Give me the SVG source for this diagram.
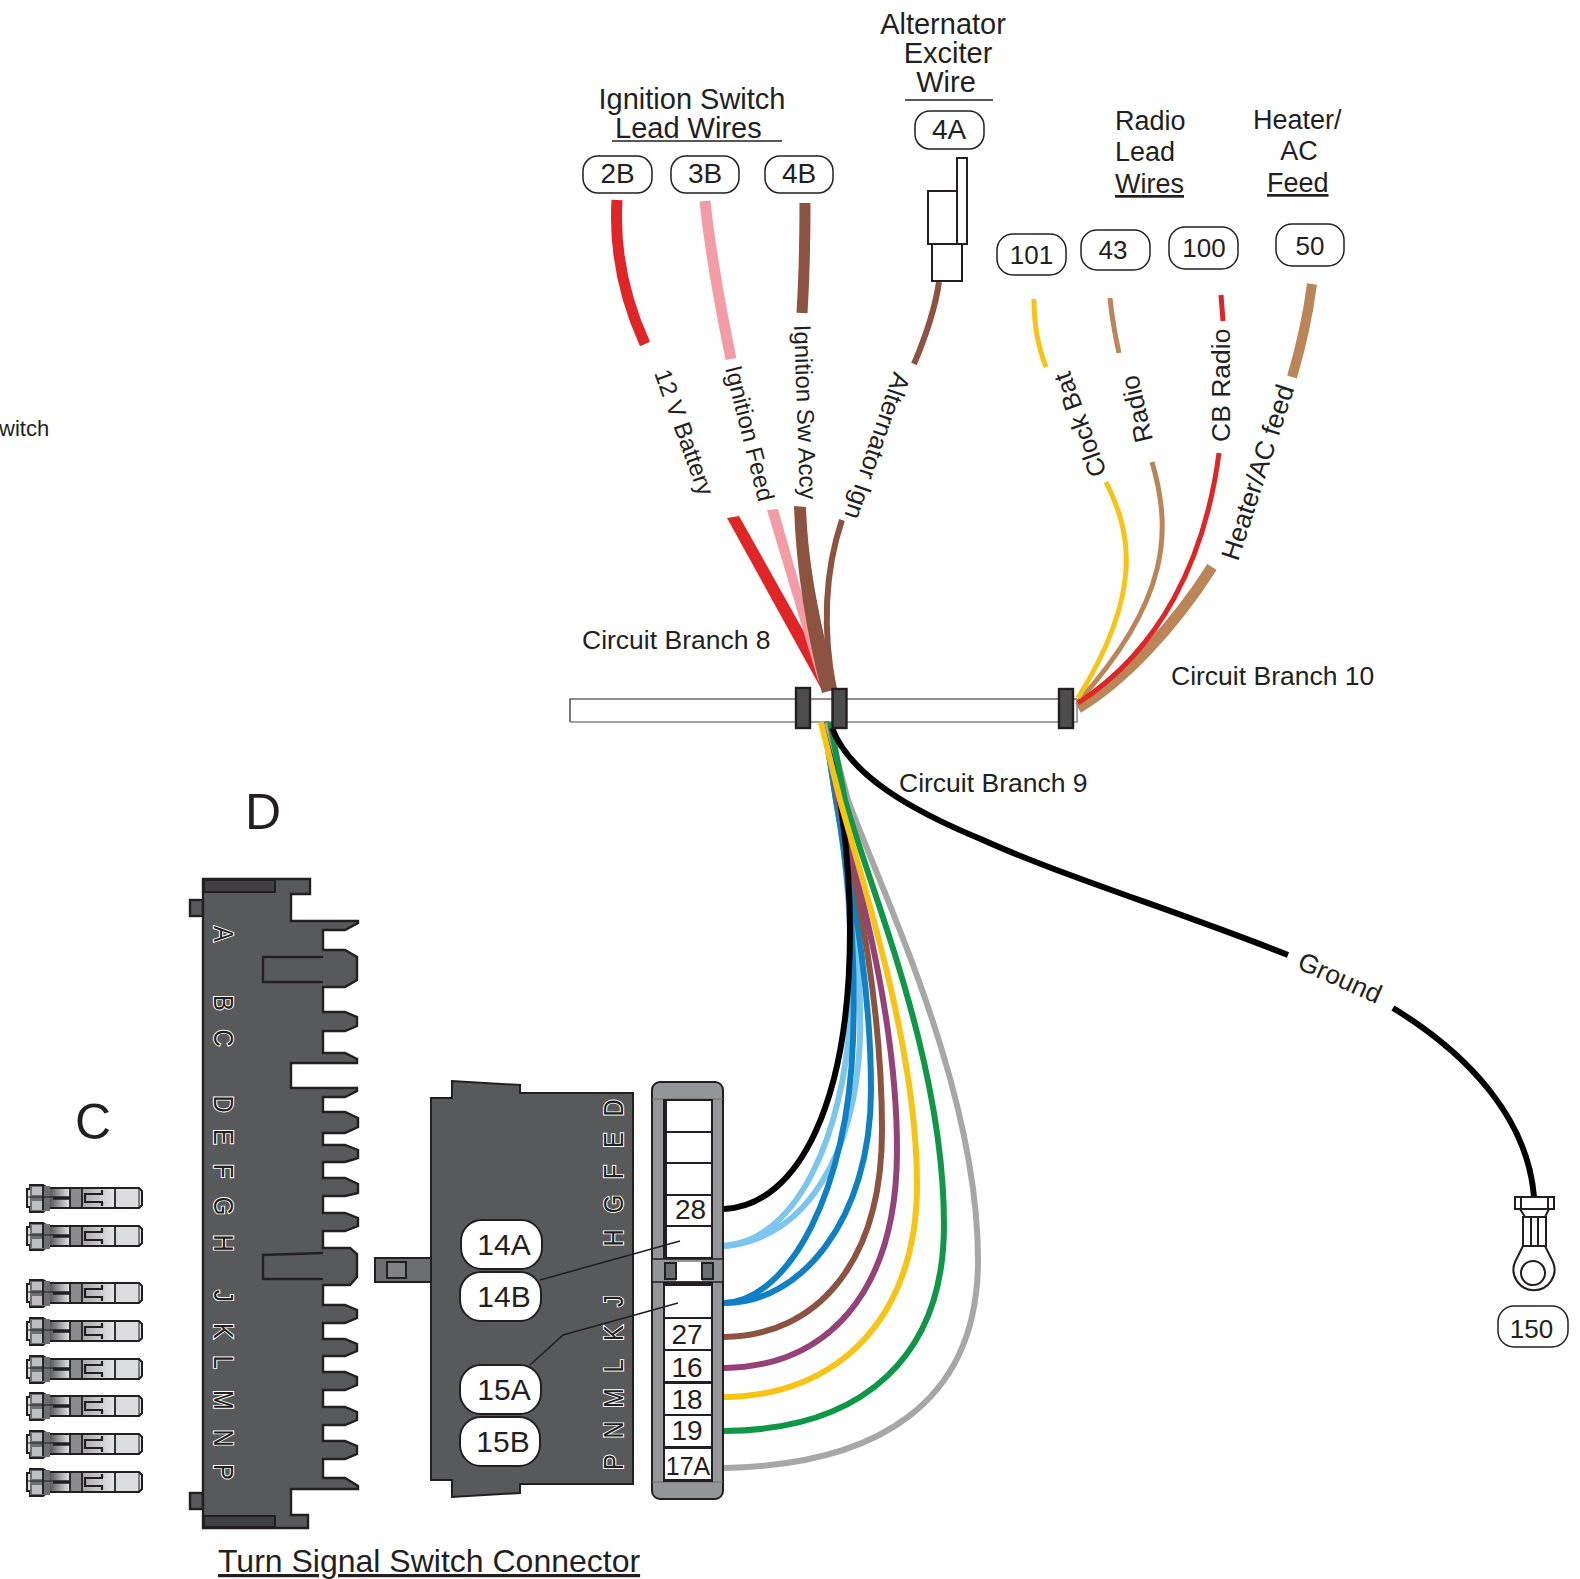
<svg xmlns="http://www.w3.org/2000/svg" width="1580" height="1579" viewBox="0 0 1580 1579">
<style>
text{font-family:"Liberation Sans",Arial,sans-serif;fill:#231f20}
.l26{font-size:26.500px}.l24{font-size:24px}.l29{font-size:29px}.l27{font-size:27px}
.c{text-anchor:middle}
.pill{fill:#fff;stroke:#231f20;stroke-width:1.5}
.pillb{fill:#fff;stroke:#231f20;stroke-width:2}
.w{fill:none;stroke-linecap:butt}
.low{stroke-width:6}
.dk{fill:#58595b;stroke:#231f20;stroke-width:2.4;stroke-linejoin:miter}
.clamp{fill:#4d4d4d;stroke:#231f20;stroke-width:2.4}
.pin{font-size:28px;fill:#231f20;stroke:#fff;stroke-width:2;paint-order:stroke;text-anchor:middle}
.cell{fill:#fff}
.t{stroke:#231f20;stroke-width:2;fill:none}
.lug{fill:#fff;stroke:#231f20;stroke-width:2}
</style>
<defs>
<linearGradient id="g1" x1="0" x2="1" y1="0" y2="0"><stop offset="0" stop-color="#58595b"/><stop offset="1" stop-color="#e6e7e8"/></linearGradient>
<linearGradient id="g2" x1="0" x2="1" y1="0" y2="0"><stop offset="0" stop-color="#a7a9ac"/><stop offset="1" stop-color="#e6e7e8"/></linearGradient>
<g id="term">
<path d="M0-9H3V-13H16L21-10H112L115-7V7L112 10H21L16 14H3V9H0Z" fill="#dcddde" stroke="#231f20" stroke-width="2"/>
<rect x="3" y="-12" width="20" height="25" fill="#6d6e71"/>
<rect x="5" y="-11" width="10" height="8" fill="#bcbec0"/>
<rect x="5" y="3" width="10" height="9" fill="#bcbec0"/>
<rect x="23" y="-9" width="20" height="18" fill="url(#g1)"/>
<rect x="43" y="-9" width="12" height="18" fill="#8a8c8e"/>
<rect x="55" y="-9" width="33" height="18" fill="url(#g2)"/>
<path d="M0-1H26" stroke="#231f20" stroke-width="1" fill="none"/>
<path d="M26 0H43" stroke="#231f20" stroke-width="3.500" fill="none"/>
<path d="M16-12V12M43-10V10M55-10V10M88-10V10" stroke="#231f20" stroke-width="1.800" fill="none"/>
<path d="M75-8V-4H58V4H75V8" stroke="#231f20" stroke-width="2.200" fill="none"/>
<path d="M112-10V10" stroke="#231f20" stroke-width="1" fill="none"/>
</g>
</defs>
<rect width="1580" height="1579" fill="#fff"/>

<g id="title-labels">
<text class="l29 c" x="692" y="109">Ignition Switch</text>
<text class="l29" x="615" y="138">Lead Wires</text>
<line x1="612" y1="141" x2="782" y2="141" stroke="#231f20" stroke-width="1.6"/>
<text class="l29 c" x="943" y="34">Alternator</text>
<text class="l29 c" x="948" y="63">Exciter</text>
<text class="l29 c" x="946" y="92">Wire</text>
<line x1="905" y1="100" x2="993" y2="100" stroke="#231f20" stroke-width="1.6"/>
<text class="l27" x="1115" y="130">Radio</text>
<text class="l27" x="1115" y="161">Lead</text>
<text class="l27" x="1115" y="193" text-decoration="underline">Wires</text>
<text class="l27" x="1253" y="129">Heater/</text>
<text class="l27 c" x="1299" y="160">AC</text>
<text class="l27" x="1267" y="192" text-decoration="underline">Feed</text>
<text class="l26" x="582" y="649">Circuit Branch 8</text>
<text class="l26" x="1171" y="685">Circuit Branch 10</text>
<text class="l26" x="899" y="792">Circuit Branch 9</text>
<text x="245" y="829" style="font-size:50px">D</text>
<text x="75" y="1139" style="font-size:50px">C</text>
<text x="218" y="1572" style="font-size:32px" text-decoration="underline">Turn Signal Switch Connector</text>
<text x="-1" y="436" style="font-size:22px">witch</text>
<text class="l24" transform="translate(654 373) rotate(70)">12 V Battery</text>
<text class="l24" transform="translate(725 368) rotate(76)">Ignition Feed</text>
<text class="l24" transform="translate(794 325) rotate(88)">Ignition Sw Accy</text>
<text style="font-size:25.500px" transform="translate(894 371) rotate(109)">Alternator Ign</text>
<text style="font-size:25.500px" transform="translate(1107 473) rotate(-110)">Clock Bat</text>
<text style="font-size:26px" transform="translate(1153 440) rotate(-103)">Radio</text>
<text class="l26" transform="translate(1230 442) rotate(-90)">CB Radio</text>
<text class="l26" transform="translate(1238 562) rotate(-72)">Heater/AC feed</text>
<text class="l26" transform="translate(1296 968) rotate(24)">Ground</text>
</g>

<g id="bar">
<rect x="570" y="699" width="507" height="23" fill="#fff"/>
<path d="M570 722V699H1077" fill="none" stroke="#231f20" stroke-width="1.2"/>
<path d="M570 722H1077V699" fill="none" stroke="#808285" stroke-width="1.5"/>
</g>

<g id="connectors">
<g class="wires-top">
<path class="w" d="M617 200C614 250 625 300 645 344" stroke="#e02526" stroke-width="11"/>
<path class="w" d="M705 201C710 250 720 305 731 359" stroke="#f49ca5" stroke-width="11"/>
<path class="w" d="M805 203C805 240 804 280 802 313" stroke="#8c5340" stroke-width="11"/>
<path class="w" d="M939 282C935 310 925 338 914 364" stroke="#8c5340" stroke-width="6"/>
<path class="w" d="M1034 299C1034 322 1038 347 1046 367" stroke="#f7c414" stroke-width="5"/>
<path class="w" d="M1110 298C1112 318 1115 335 1119 353" stroke="#bb8558" stroke-width="5"/>
<path class="w" d="M1221 295L1223 321" stroke="#e02526" stroke-width="5"/>
<path class="w" d="M1312 284C1308 315 1300 350 1292 377" stroke="#bb8558" stroke-width="10"/>
</g>
<g class="wires-mid">
<path d="M727 518L739 516L822 664L825 692L823 692Z" fill="#e02526"/>
<path d="M767 510L778 509L815 640L825 690L818 680Z" fill="#f49ca5"/>
<path class="w" d="M842 520C825 570 822 630 834 690" stroke="#8c5340" stroke-width="6"/>
<path d="M794 506L806 507C808 570 822 630 837 689L822 693C806 630 796 570 794 506Z" fill="#8c5340"/>
<path class="w" d="M1212 567C1175 625 1125 680 1078 708" stroke="#bb8558" stroke-width="11"/>
<path class="w" d="M1152 462C1172 530 1170 600 1078 702" stroke="#bb8558" stroke-width="5"/>
<path class="w" d="M1219 453C1205 560 1160 650 1078 703" stroke="#e02526" stroke-width="5"/>
<path class="w" d="M1106 482C1130 530 1145 590 1078 698" stroke="#f7c414" stroke-width="5"/>
</g>
<g class="wires-low">
<path class="w low" d="M826 722L838 800C850 880 862 960 860 1040C855 1150 810 1238 724 1246" stroke="#7cc5ec"/>
<path class="w low" d="M826 722L838 800C848 880 855 960 850 1020C843 1130 800 1240 724 1246" stroke="#7cc5ec"/>
<path class="w low" d="M824 722L836 800C850 880 871 980 871 1090C871 1220 800 1304 724 1303" stroke="#1080c4"/>
<path class="w low" d="M824 722L836 800C850 880 856 960 853 1040C848 1190 790 1300 724 1303" stroke="#1080c4"/>
<path class="w low" d="M826 722L838 800C855 880 882 1000 882 1130C882 1265 815 1336 724 1337" stroke="#8c5340"/>
<path class="w low" d="M826 722L838 800C860 890 897 1020 897 1150C897 1295 825 1367 724 1368" stroke="#954279"/>
<path class="w low" d="M826 722C838 780 850 850 850 930C850 1100 800 1205 724 1209" stroke="#000"/>
<path class="w low" d="M827 722L848 800C885 900 978 1090 978 1260C978 1405 875 1465 724 1468" stroke="#a7a7a7"/>
<path class="w low" d="M830 722L845 800C870 890 944 1060 944 1225C944 1355 865 1430 724 1431" stroke="#0f9748"/>
<path class="w low" d="M821 722L840 800C865 890 917 1050 917 1185C917 1318 838 1396 724 1397" stroke="#f7c414"/>
<path class="w low" d="M832 728C850 775 910 810 983 840C1060 875 1180 912 1288 955" stroke="#000"/>
<path class="w low" d="M1393 1008C1470 1055 1528 1120 1534 1197" stroke="#000"/>
</g>
</g>

<g id="clamps">
<rect class="clamp" x="796" y="688" width="14" height="40"/>
<rect class="clamp" x="832.500" y="689" width="14" height="39"/>
<rect class="clamp" x="1059" y="689" width="14" height="39"/>
</g>

<g id="spade">
<rect class="lug" x="957" y="158" width="10" height="86"/>
<rect class="lug" x="928" y="191" width="29" height="53"/>
<rect class="lug" x="932" y="244" width="30" height="37"/>
</g>

<g id="pills">
<g id="n2B"><rect class="pill" x="583" y="156" width="69" height="37" rx="15"/><text class="c" style="font-size:28px" x="617.500" y="183">2B</text></g>
<g id="n3B"><rect class="pill" x="671" y="156" width="68" height="37" rx="15"/><text class="c" style="font-size:28px" x="705" y="183">3B</text></g>
<g id="n4B"><rect class="pill" x="765" y="156" width="68" height="37" rx="15"/><text class="c" style="font-size:28px" x="799" y="183">4B</text></g>
<g id="n4A"><rect class="pill" x="915" y="111" width="69" height="38" rx="15"/><text class="c" style="font-size:28px" x="949" y="139">4A</text></g>
<g id="n101"><rect class="pill" x="997" y="234" width="69" height="41" rx="16"/><text class="c" style="font-size:26px" x="1031.500" y="264">101</text></g>
<g id="n43"><rect class="pill" x="1081" y="230" width="69" height="40" rx="16"/><text class="c" style="font-size:26px" x="1113" y="259">43</text></g>
<g id="n100"><rect class="pill" x="1169" y="227" width="69" height="42" rx="16"/><text class="c" style="font-size:26px" x="1204" y="257">100</text></g>
<g id="n50"><rect class="pill" x="1276" y="224" width="68" height="42" rx="16"/><text class="c" style="font-size:26px" x="1310" y="255">50</text></g>
<g id="n150"><rect class="pill" x="1498" y="1306" width="70" height="41" rx="16"/><text class="c" style="font-size:26px" x="1531.500" y="1338">150</text></g>
</g>

<g id="lug">
<path class="lug" d="M1520 1209L1525 1217H1545L1549 1209Z"/>
<rect class="lug" x="1515" y="1197" width="39" height="12"/>
<path class="t" d="M1521 1197V1209M1548 1197V1209"/>
<path class="lug" d="M1523 1246L1515 1262A20.500 20.500 0 1 0 1553 1262L1545 1246Z"/>
<rect class="lug" x="1523" y="1217" width="8" height="29"/>
<rect class="lug" x="1538" y="1217" width="8" height="29"/>
<circle class="lug" cx="1533" cy="1273" r="12"/>
</g>

<g id="conn-D">
<rect class="dk" x="190" y="900" width="13" height="16"/>
<rect class="dk" x="190" y="1493" width="13" height="16"/>
<path class="dk" d="M203 879H310V894H291V921H358V923L345 930H323V950H345L357 957V980L345 987H323V1012H345L357 1017V1026L345 1031H323V1053H345L357 1059V1063H291V1088H357V1091L345 1097H323V1112H345L358 1118V1127L345 1133H323V1145H345L358 1150V1158L345 1162H323V1178H345L358 1184V1193L345 1196H323V1213H345L358 1218V1226L345 1231H323V1248H350L357 1254V1277L350 1285H323V1305H345L357 1310V1318L345 1323H323V1339H345L357 1344V1351L345 1356H323V1372H345L357 1377V1385L345 1390H323V1407H345L357 1412V1420L345 1425H323V1441H345L357 1446V1454L345 1459H323V1478H345L358 1486V1489H291V1515H308V1528H203Z"/>
<rect x="204" y="880" width="71" height="12" fill="#414042" stroke="#231f20" stroke-width="2"/>
<rect x="204" y="1516" width="71" height="11" fill="#414042" stroke="#231f20" stroke-width="2"/>
<path d="M323 957H263V982H323M323 1253L263 1255V1279H323" fill="#58595b" stroke="#231f20" stroke-width="2.4"/>
<path d="M322 958V981M322 1254V1278" stroke="#58595b" stroke-width="3" fill="none"/>
<g transform="translate(214 0)">
<text class="pin" transform="translate(0 934) rotate(90) scale(.85 1)">A</text>
<text class="pin" transform="translate(0 1003) rotate(90) scale(.85 1)">B</text>
<text class="pin" transform="translate(0 1038) rotate(90) scale(.85 1)">C</text>
<text class="pin" transform="translate(0 1104) rotate(90) scale(.85 1)">D</text>
<text class="pin" transform="translate(0 1137) rotate(90) scale(.85 1)">E</text>
<text class="pin" transform="translate(0 1171) rotate(90) scale(.85 1)">F</text>
<text class="pin" transform="translate(0 1206) rotate(90) scale(.85 1)">G</text>
<text class="pin" transform="translate(0 1243) rotate(90) scale(.85 1)">H</text>
<text class="pin" transform="translate(0 1296) rotate(90) scale(.85 1)">J</text>
<text class="pin" transform="translate(0 1331) rotate(90) scale(.85 1)">K</text>
<text class="pin" transform="translate(0 1362) rotate(90) scale(.85 1)">L</text>
<text class="pin" transform="translate(0 1400) rotate(90) scale(.85 1)">M</text>
<text class="pin" transform="translate(0 1438) rotate(90) scale(.85 1)">N</text>
<text class="pin" transform="translate(0 1472) rotate(90) scale(.85 1)">P</text>
</g>
</g>

<g id="conn-terminals">
<use href="#term" x="27" y="1198"/>
<use href="#term" x="27" y="1236"/>
<use href="#term" x="27" y="1293"/>
<use href="#term" x="27" y="1331"/>
<use href="#term" x="27" y="1369"/>
<use href="#term" x="27" y="1406"/>
<use href="#term" x="27" y="1444"/>
<use href="#term" x="27" y="1482"/>
</g>

<g id="conn-plug">
<rect x="375" y="1258" width="56" height="24" fill="#6d6e71" stroke="#231f20" stroke-width="2"/>
<rect x="387" y="1262" width="19" height="16" fill="#808285" stroke="#231f20" stroke-width="2"/>
<path fill="#58595b" stroke="#231f20" stroke-width="2" d="M431 1098H452V1081L520 1085V1093H633V1484H520V1493L452 1497V1480L431 1480Z"/>
<g>
<text class="pin" transform="translate(623 1108) rotate(-90) scale(.85 1)">D</text>
<text class="pin" transform="translate(623 1140) rotate(-90) scale(.85 1)">E</text>
<text class="pin" transform="translate(623 1172) rotate(-90) scale(.85 1)">F</text>
<text class="pin" transform="translate(623 1204) rotate(-90) scale(.85 1)">G</text>
<text class="pin" transform="translate(623 1238) rotate(-90) scale(.85 1)">H</text>
<text class="pin" transform="translate(623 1301) rotate(-90) scale(.85 1)">J</text>
<text class="pin" transform="translate(623 1333) rotate(-90) scale(.85 1)">K</text>
<text class="pin" transform="translate(623 1366) rotate(-90) scale(.85 1)">L</text>
<text class="pin" transform="translate(623 1398) rotate(-90) scale(.85 1)">M</text>
<text class="pin" transform="translate(623 1430) rotate(-90) scale(.85 1)">N</text>
<text class="pin" transform="translate(623 1462) rotate(-90) scale(.85 1)">P</text>
</g>
<g id="n14A"><rect class="pillb" x="461" y="1220" width="81" height="49" rx="21"/><text class="c" style="font-size:30px" x="504" y="1255">14A</text></g>
<g id="n14B"><rect class="pillb" x="460" y="1272" width="81" height="49" rx="21"/><text class="c" style="font-size:30px" x="504" y="1307">14B</text></g>
<g id="n15A"><rect class="pillb" x="460" y="1365" width="81" height="49" rx="21"/><text class="c" style="font-size:30px" x="504" y="1400">15A</text></g>
<g id="n15B"><rect class="pillb" x="460" y="1417" width="80" height="49" rx="21"/><text class="c" style="font-size:30px" x="503" y="1452">15B</text></g>
</g>

<g id="conn-cavity">
<rect x="652" y="1082" width="71" height="417" rx="8" fill="#939598" stroke="#231f20" stroke-width="2"/>
<path d="M652 1099H723M652 1482H723" stroke="#6d6e71" stroke-width="1"/>
<rect x="663" y="1099" width="50" height="383" fill="#231f20"/>
<rect class="cell" x="667" y="1101" width="44" height="30"/>
<rect class="cell" x="667" y="1133" width="44" height="29"/>
<rect class="cell" x="667" y="1164" width="44" height="30"/>
<rect class="cell" x="667" y="1196" width="44" height="29"/>
<rect class="cell" x="667" y="1227" width="44" height="30"/>
<rect x="652" y="1259" width="71" height="23" fill="#939598" stroke="#231f20" stroke-width="1.500"/>
<rect class="cell" x="676" y="1262" width="26" height="19"/>
<rect x="665" y="1263" width="11" height="16" fill="#6d6e71" stroke="#231f20" stroke-width="2"/>
<rect x="702" y="1263" width="11" height="16" fill="#6d6e71" stroke="#231f20" stroke-width="2"/>
<rect x="663" y="1282" width="50" height="3" fill="#231f20"/>
<rect class="cell" x="665" y="1286" width="46" height="31"/>
<rect class="cell" x="665" y="1319" width="46" height="30"/>
<rect class="cell" x="665" y="1351" width="46" height="30"/>
<rect class="cell" x="665" y="1384" width="46" height="30"/>
<rect class="cell" x="665" y="1416" width="46" height="30"/>
<rect class="cell" x="665" y="1449" width="46" height="30"/>
<text class="c" style="font-size:28px" x="690.500" y="1219">28</text>
<text class="c" style="font-size:28px" x="687" y="1344">27</text>
<text class="c" style="font-size:28px" x="687" y="1377">16</text>
<text class="c" style="font-size:28px" x="687" y="1409">18</text>
<text class="c" style="font-size:28px" x="687" y="1440">19</text>
<text class="c" style="font-size:25px" x="688" y="1475">17A</text>
</g>

<g id="leaders">
<path d="M540 1280L680 1241M530 1365L563 1335L678 1303" fill="none" stroke="#231f20" stroke-width="1.6"/>
</g>
</svg>
